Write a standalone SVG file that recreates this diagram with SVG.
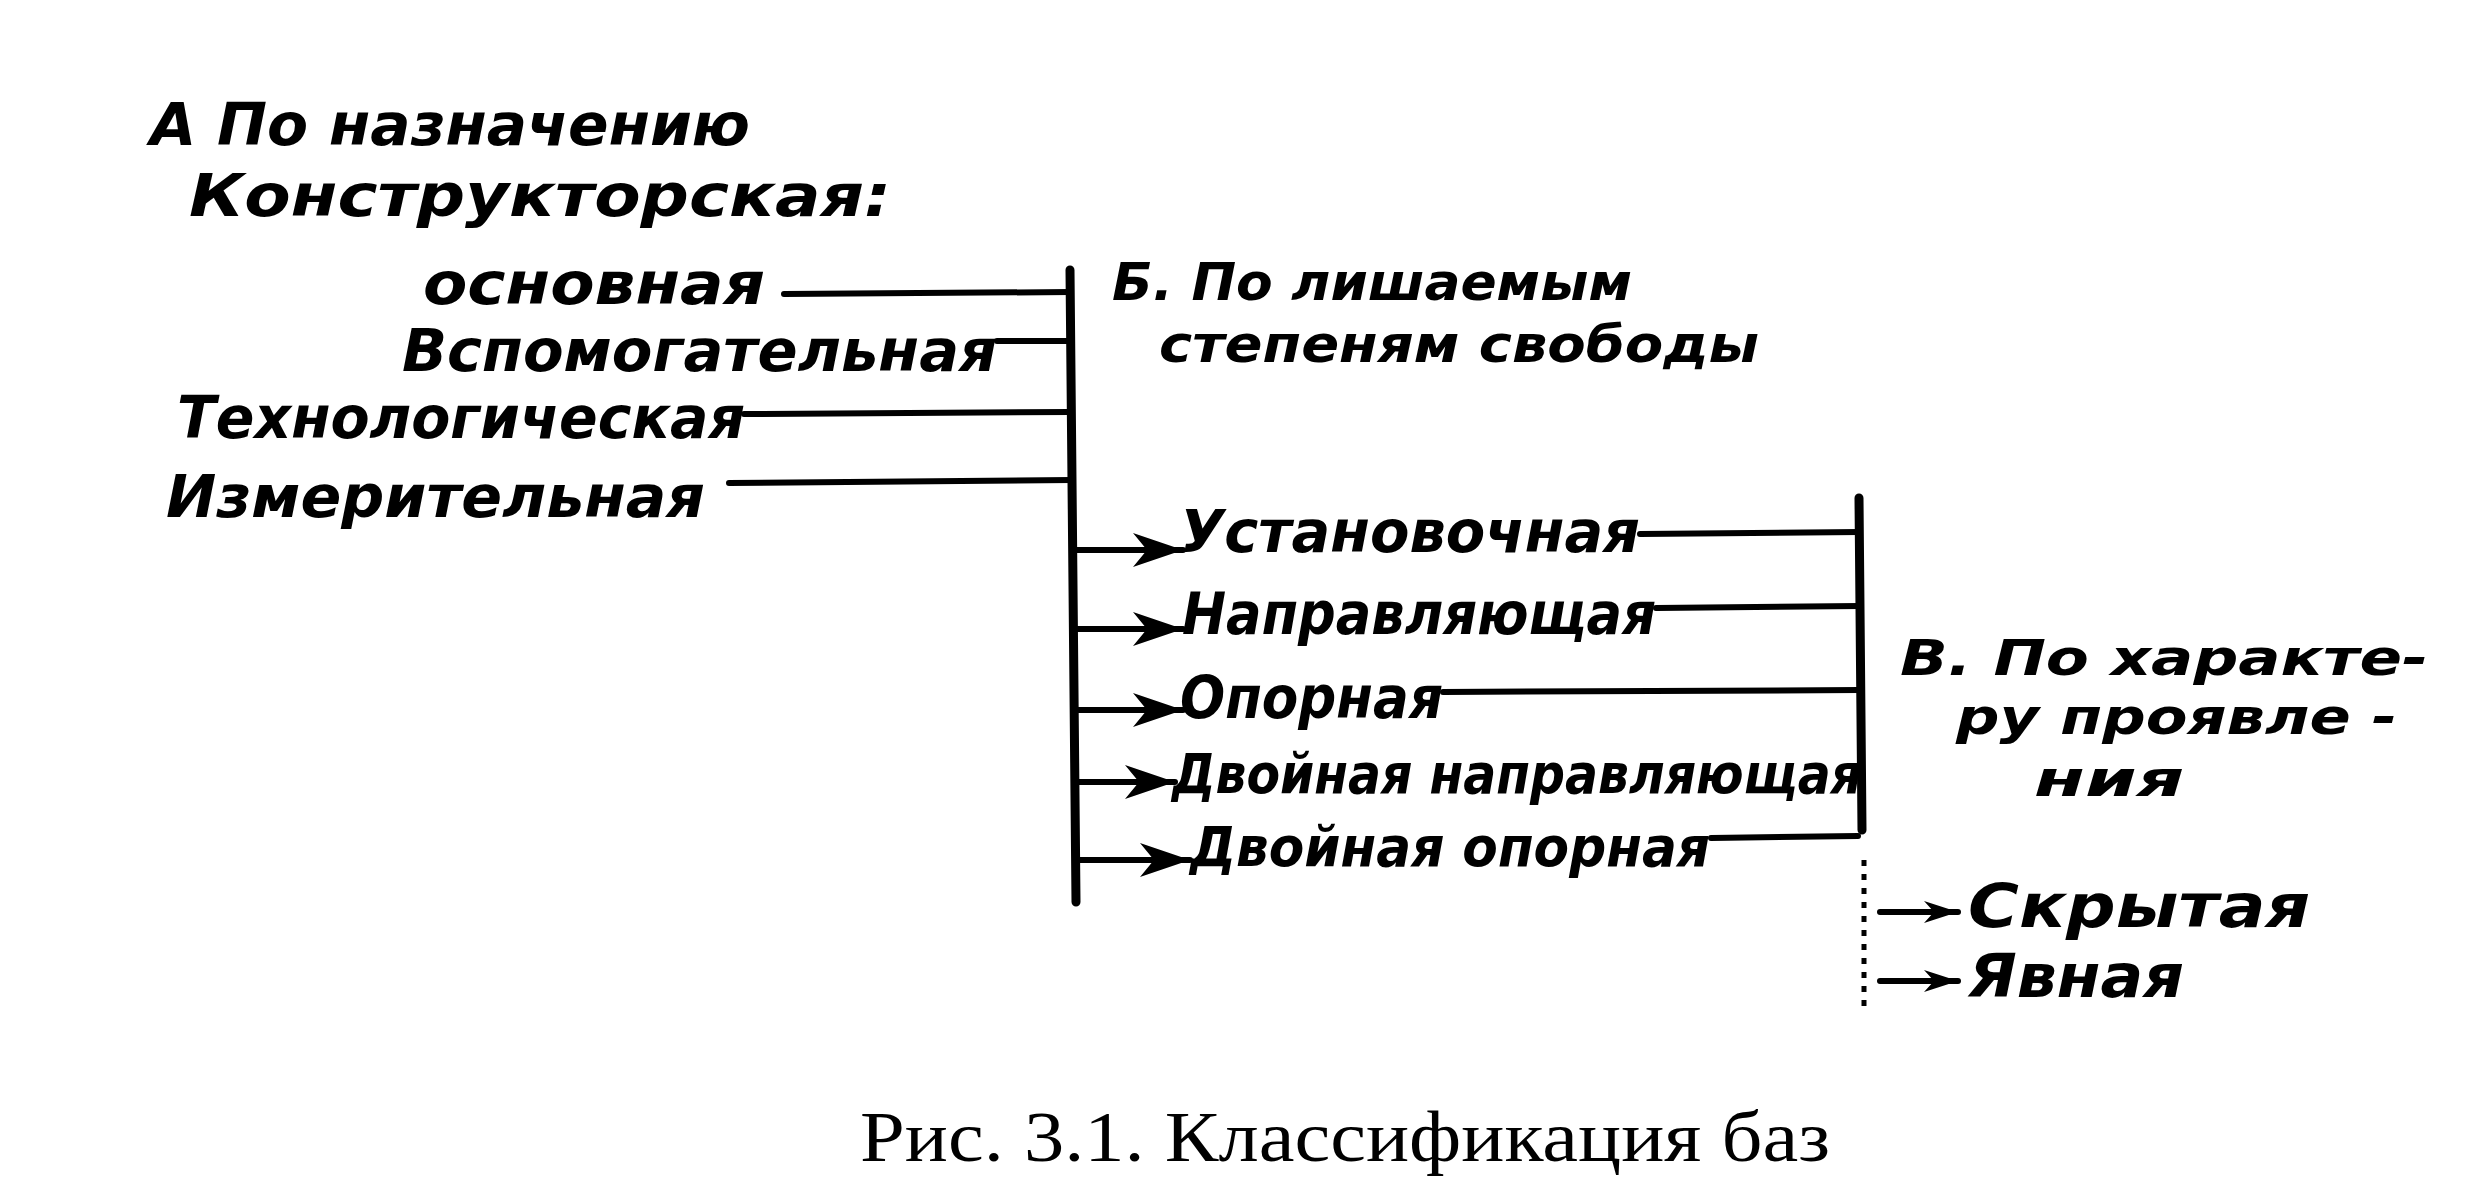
<svg xmlns="http://www.w3.org/2000/svg" width="2473" height="1197" viewBox="0 0 2473 1197">
<style>
.h{font-family:"DejaVu Sans Condensed","DejaVu Sans",sans-serif;font-style:oblique;font-weight:bold;fill:#000}
.cap{font-family:"Liberation Serif","Times New Roman",serif;fill:#000}
.ln{stroke:#000;stroke-width:6;fill:none;stroke-linecap:round}
.bar{stroke:#000;stroke-width:9;fill:none;stroke-linecap:round}
.dot{stroke:#000;stroke-width:5;fill:none;stroke-dasharray:6 8}
</style>
<defs>
<marker id="ah" markerUnits="userSpaceOnUse" markerWidth="52" markerHeight="38" refX="50" refY="18" orient="auto">
<path d="M0,1 L50,18 L0,35 L14,18 Z" fill="#000"/>
</marker>
<marker id="ahs" markerUnits="userSpaceOnUse" markerWidth="36" markerHeight="26" refX="34" refY="12" orient="auto">
<path d="M0,1 L34,12 L0,23 L10,12 Z" fill="#000"/>
</marker>
</defs>
<rect width="2473" height="1197" fill="#fff"/>

<g id="connectors">
<line class="bar" x1="1070" y1="270" x2="1076" y2="902"/>
<line class="ln" x1="784" y1="294" x2="1071" y2="292"/>
<line class="ln" x1="997" y1="341" x2="1071" y2="341"/>
<line class="ln" x1="744" y1="414" x2="1071" y2="412"/>
<line class="ln" x1="729" y1="483" x2="1072" y2="480"/>
<line class="ln" x1="1075" y1="550" x2="1183" y2="550" marker-end="url(#ah)"/>
<line class="ln" x1="1075" y1="629" x2="1183" y2="629" marker-end="url(#ah)"/>
<line class="ln" x1="1075" y1="710" x2="1183" y2="710" marker-end="url(#ah)"/>
<line class="ln" x1="1075" y1="782" x2="1175" y2="782" marker-end="url(#ah)"/>
<line class="ln" x1="1075" y1="860" x2="1190" y2="860" marker-end="url(#ah)"/>
<line class="bar" x1="1859" y1="498" x2="1862" y2="830"/>
<line class="dot" x1="1864" y1="860" x2="1864" y2="1010"/>
<line class="ln" x1="1640" y1="534" x2="1860" y2="532"/>
<line class="ln" x1="1656" y1="608" x2="1860" y2="606"/>
<line class="ln" x1="1443" y1="692" x2="1860" y2="690"/>
<line class="ln" x1="1711" y1="838" x2="1858" y2="836"/>
<line class="ln" x1="1880" y1="912" x2="1958" y2="912" marker-end="url(#ahs)"/>
<line class="ln" x1="1880" y1="981" x2="1958" y2="981" marker-end="url(#ahs)"/>
</g>

<g id="groupA">
<text class="h" x="150" y="145" font-size="58" textLength="600" lengthAdjust="spacingAndGlyphs">А По назначению</text>
<text class="h" x="189" y="216" font-size="58" textLength="702" lengthAdjust="spacingAndGlyphs">Конструкторская:</text>
</g>
<g id="osnovnaya"><text class="h" x="423" y="304" font-size="58" textLength="342" lengthAdjust="spacingAndGlyphs">основная</text></g>
<g id="vspomogatelnaya"><text class="h" x="402" y="371" font-size="58" textLength="595" lengthAdjust="spacingAndGlyphs">Вспомогательная</text></g>
<g id="tehnologicheskaya"><text class="h" x="177" y="438" font-size="58" textLength="568" lengthAdjust="spacingAndGlyphs">Технологическая</text></g>
<g id="izmeritelnaya"><text class="h" x="166" y="517" font-size="58" textLength="539" lengthAdjust="spacingAndGlyphs">Измерительная</text></g>

<g id="groupB">
<text class="h" x="1112" y="300" font-size="51" textLength="520" lengthAdjust="spacingAndGlyphs">Б. По лишаемым</text>
<text class="h" x="1159" y="362" font-size="51" textLength="600" lengthAdjust="spacingAndGlyphs">степеням свободы</text>
</g>
<g id="ustanovochnaya"><text class="h" x="1180" y="552" font-size="58" textLength="460" lengthAdjust="spacingAndGlyphs">Установочная</text></g>
<g id="napravlyayushchaya"><text class="h" x="1182" y="634" font-size="58" textLength="474" lengthAdjust="spacingAndGlyphs">Направляющая</text></g>
<g id="opornaya"><text class="h" x="1180" y="718" font-size="58" textLength="263" lengthAdjust="spacingAndGlyphs">Опорная</text></g>
<g id="dvoynaya-napr"><text class="h" x="1172" y="793" font-size="56" textLength="690" lengthAdjust="spacingAndGlyphs">Двойная направляющая</text></g>
<g id="dvoynaya-opor"><text class="h" x="1190" y="866" font-size="56" textLength="520" lengthAdjust="spacingAndGlyphs">Двойная опорная</text></g>

<g id="groupV">
<text class="h" x="1900" y="675" font-size="49" textLength="528" lengthAdjust="spacingAndGlyphs">В. По характе-</text>
<text class="h" x="1956" y="734" font-size="49" textLength="441" lengthAdjust="spacingAndGlyphs">ру проявле -</text>
<text class="h" x="2034" y="796" font-size="49" textLength="150" lengthAdjust="spacingAndGlyphs">ния</text>
</g>
<g id="skrytaya"><text class="h" x="1968" y="927" font-size="60" textLength="342" lengthAdjust="spacingAndGlyphs">Скрытая</text></g>
<g id="yavnaya"><text class="h" x="1968" y="997" font-size="60" textLength="216" lengthAdjust="spacingAndGlyphs">Явная</text></g>

<g id="caption"><text class="cap" x="860" y="1161" font-size="72" textLength="970" lengthAdjust="spacingAndGlyphs">Рис. 3.1. Классификация баз</text></g>
</svg>
